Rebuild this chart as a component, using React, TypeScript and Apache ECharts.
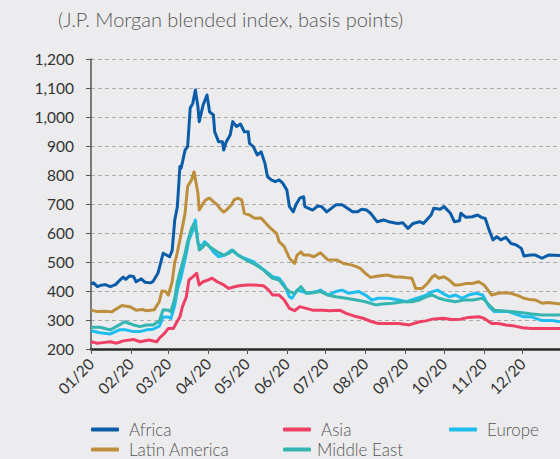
import React, { useEffect, useRef } from "react";
import * as echarts from "echarts";

const title = "(J.P. Morgan blended index, basis points)";
const seriesNames = ["Africa", "Asia", "Europe", "Latin America", "Middle East"];
const colors = ["#0a5ca8", "#ee3f65", "#1ebdef", "#bd8e3c", "#35b5b1"];

const africa: [string, number][] = [
  ["2020-01-01", 425], ["2020-01-03", 428], ["2020-01-06", 415], ["2020-01-09", 420], ["2020-01-12", 422],
  ["2020-01-16", 415], ["2020-01-20", 422], ["2020-01-24", 440], ["2020-01-26", 448], ["2020-01-28", 440],
  ["2020-01-31", 452], ["2020-02-03", 450], ["2020-02-05", 432], ["2020-02-09", 442], ["2020-02-12", 430],
  ["2020-02-16", 428], ["2020-02-18", 432], ["2020-02-22", 462], ["2020-02-26", 530], ["2020-03-02", 518],
  ["2020-03-04", 540], ["2020-03-06", 645], ["2020-03-08", 690], ["2020-03-10", 829], ["2020-03-11", 824],
  ["2020-03-14", 886], ["2020-03-16", 898], ["2020-03-18", 1031], ["2020-03-20", 1047], ["2020-03-22", 1093],
  ["2020-03-24", 1035], ["2020-03-25", 984], ["2020-03-28", 1041], ["2020-03-31", 1076], ["2020-04-01", 1048],
  ["2020-04-02", 1018], ["2020-04-05", 1007], ["2020-04-06", 949], ["2020-04-09", 915], ["2020-04-12", 915],
  ["2020-04-13", 886], ["2020-04-15", 915], ["2020-04-18", 938], ["2020-04-20", 984], ["2020-04-23", 967],
  ["2020-04-26", 976], ["2020-04-29", 949], ["2020-05-02", 949], ["2020-05-03", 909], ["2020-05-06", 898],
  ["2020-05-09", 869], ["2020-05-12", 880], ["2020-05-15", 840], ["2020-05-17", 794], ["2020-05-20", 783],
  ["2020-05-23", 777], ["2020-05-26", 783], ["2020-05-29", 771], ["2020-06-01", 748], ["2020-06-03", 691],
  ["2020-06-06", 673], ["2020-06-08", 697], ["2020-06-11", 720], ["2020-06-14", 725], ["2020-06-15", 691],
  ["2020-06-18", 685], ["2020-06-21", 679], ["2020-06-25", 693], ["2020-06-28", 691], ["2020-07-02", 673],
  ["2020-07-09", 697], ["2020-07-14", 697], ["2020-07-18", 685], ["2020-07-22", 673], ["2020-07-26", 673],
  ["2020-07-29", 682], ["2020-08-02", 679], ["2020-08-05", 668], ["2020-08-10", 639], ["2020-08-15", 645],
  ["2020-08-19", 639], ["2020-08-26", 633], ["2020-08-30", 635], ["2020-09-03", 616], ["2020-09-07", 633],
  ["2020-09-12", 639], ["2020-09-15", 633], ["2020-09-21", 662], ["2020-09-23", 685], ["2020-09-28", 682],
  ["2020-10-01", 691], ["2020-10-06", 668], ["2020-10-09", 639], ["2020-10-13", 642], ["2020-10-14", 668],
  ["2020-10-18", 654], ["2020-10-23", 656], ["2020-10-27", 662], ["2020-10-30", 654], ["2020-11-02", 650],
  ["2020-11-05", 610], ["2020-11-08", 576], ["2020-11-11", 587], ["2020-11-14", 576], ["2020-11-18", 585],
  ["2020-11-22", 564], ["2020-11-26", 559], ["2020-11-30", 547], ["2020-12-02", 521], ["2020-12-07", 524],
  ["2020-12-11", 524], ["2020-12-16", 513], ["2020-12-21", 524], ["2020-12-30", 522],
];

const asia: [string, number][] = [
  ["2020-01-01", 225], ["2020-01-06", 220], ["2020-01-10", 222], ["2020-01-16", 225], ["2020-01-21", 220],
  ["2020-01-26", 228], ["2020-02-03", 233], ["2020-02-08", 225], ["2020-02-15", 231], ["2020-02-21", 225],
  ["2020-02-23", 237], ["2020-02-27", 254], ["2020-03-01", 271], ["2020-03-05", 271], ["2020-03-07", 288],
  ["2020-03-10", 311], ["2020-03-12", 346], ["2020-03-15", 380], ["2020-03-17", 438], ["2020-03-20", 449],
  ["2020-03-23", 461], ["2020-03-25", 421], ["2020-03-28", 432], ["2020-04-01", 438], ["2020-04-04", 444],
  ["2020-04-08", 432], ["2020-04-13", 421], ["2020-04-17", 409], ["2020-04-20", 413], ["2020-04-25", 418],
  ["2020-05-01", 421], ["2020-05-06", 421], ["2020-05-14", 418], ["2020-05-18", 403], ["2020-05-21", 386],
  ["2020-05-26", 386], ["2020-05-30", 369], ["2020-06-03", 340], ["2020-06-07", 332], ["2020-06-11", 346],
  ["2020-06-16", 340], ["2020-06-21", 334], ["2020-06-29", 334], ["2020-07-04", 332], ["2020-07-12", 334],
  ["2020-07-17", 323], ["2020-07-23", 314], ["2020-07-30", 306], ["2020-08-06", 294], ["2020-08-11", 288],
  ["2020-08-19", 288], ["2020-08-27", 288], ["2020-09-04", 283], ["2020-09-12", 294], ["2020-09-17", 297],
  ["2020-09-22", 303], ["2020-09-30", 306], ["2020-10-07", 302], ["2020-10-14", 303], ["2020-10-20", 309],
  ["2020-10-28", 311], ["2020-11-01", 306], ["2020-11-07", 288], ["2020-11-12", 288], ["2020-11-18", 283],
  ["2020-11-25", 279], ["2020-12-01", 273], ["2020-12-08", 271], ["2020-12-16", 271], ["2020-12-30", 271],
];

const europe: [string, number][] = [
  ["2020-01-01", 263], ["2020-01-08", 256], ["2020-01-16", 252], ["2020-01-23", 266], ["2020-01-28", 266],
  ["2020-02-03", 260], ["2020-02-08", 260], ["2020-02-13", 266], ["2020-02-18", 268], ["2020-02-23", 279],
  ["2020-02-26", 310], ["2020-03-01", 310], ["2020-03-03", 305], ["2020-03-06", 350], ["2020-03-08", 403],
  ["2020-03-11", 449], ["2020-03-13", 490], ["2020-03-15", 530], ["2020-03-17", 576], ["2020-03-20", 610],
  ["2020-03-22", 645], ["2020-03-24", 564], ["2020-03-27", 553], ["2020-03-29", 570], ["2020-04-01", 559],
  ["2020-04-05", 535], ["2020-04-09", 518], ["2020-04-14", 524], ["2020-04-19", 541], ["2020-04-24", 524],
  ["2020-04-29", 513], ["2020-05-06", 501], ["2020-05-11", 484], ["2020-05-16", 467], ["2020-05-21", 449],
  ["2020-05-26", 444], ["2020-05-30", 421], ["2020-06-03", 380], ["2020-06-05", 375], ["2020-06-09", 403],
  ["2020-06-13", 398], ["2020-06-18", 392], ["2020-06-24", 398], ["2020-06-27", 403], ["2020-07-03", 386],
  ["2020-07-09", 398], ["2020-07-14", 403], ["2020-07-19", 392], ["2020-07-27", 398], ["2020-08-01", 386],
  ["2020-08-06", 369], ["2020-08-11", 375], ["2020-08-19", 375], ["2020-08-27", 369], ["2020-09-02", 363],
  ["2020-09-06", 369], ["2020-09-12", 378], ["2020-09-17", 386], ["2020-09-22", 398], ["2020-09-26", 403],
  ["2020-09-30", 392], ["2020-10-05", 380], ["2020-10-10", 386], ["2020-10-15", 375], ["2020-10-20", 386],
  ["2020-10-26", 392], ["2020-10-31", 386], ["2020-11-05", 346], ["2020-11-09", 329], ["2020-11-14", 329],
  ["2020-11-20", 329], ["2020-11-25", 321], ["2020-12-02", 311], ["2020-12-08", 311], ["2020-12-16", 298],
  ["2020-12-24", 298], ["2020-12-30", 294],
];

const latinAmerica: [string, number][] = [
  ["2020-01-01", 334], ["2020-01-06", 329], ["2020-01-12", 330], ["2020-01-17", 328], ["2020-01-25", 350],
  ["2020-01-31", 346], ["2020-02-05", 334], ["2020-02-10", 336], ["2020-02-13", 332], ["2020-02-19", 335],
  ["2020-02-23", 363], ["2020-02-25", 400], ["2020-02-28", 398], ["2020-03-01", 386], ["2020-03-04", 432],
  ["2020-03-06", 501], ["2020-03-07", 513], ["2020-03-10", 576], ["2020-03-12", 622], ["2020-03-14", 668],
  ["2020-03-15", 714], ["2020-03-16", 760], ["2020-03-19", 783], ["2020-03-21", 811], ["2020-03-24", 737],
  ["2020-03-25", 679], ["2020-03-28", 702], ["2020-03-30", 714], ["2020-04-02", 720], ["2020-04-05", 708],
  ["2020-04-08", 697], ["2020-04-10", 685], ["2020-04-13", 672], ["2020-04-15", 679], ["2020-04-19", 697],
  ["2020-04-21", 714], ["2020-04-24", 720], ["2020-04-27", 714], ["2020-04-29", 668], ["2020-05-03", 662],
  ["2020-05-07", 651], ["2020-05-12", 652], ["2020-05-18", 622], ["2020-05-24", 599], ["2020-05-26", 570],
  ["2020-05-30", 553], ["2020-06-03", 513], ["2020-06-07", 495], ["2020-06-09", 524], ["2020-06-12", 535],
  ["2020-06-14", 524], ["2020-06-18", 524], ["2020-06-22", 518], ["2020-06-27", 532], ["2020-07-03", 507],
  ["2020-07-06", 507], ["2020-07-10", 507], ["2020-07-15", 495], ["2020-07-21", 490], ["2020-07-25", 484],
  ["2020-07-28", 478], ["2020-08-01", 461], ["2020-08-05", 447], ["2020-08-11", 452], ["2020-08-18", 455],
  ["2020-08-23", 449], ["2020-08-31", 447], ["2020-09-06", 444], ["2020-09-09", 409], ["2020-09-14", 409],
  ["2020-09-18", 426], ["2020-09-22", 449], ["2020-09-24", 455], ["2020-09-27", 444], ["2020-10-01", 449],
  ["2020-10-05", 438], ["2020-10-09", 421], ["2020-10-13", 421], ["2020-10-18", 426], ["2020-10-23", 426],
  ["2020-10-28", 432], ["2020-11-01", 421], ["2020-11-05", 398], ["2020-11-07", 386], ["2020-11-12", 392],
  ["2020-11-17", 394], ["2020-11-22", 392], ["2020-11-28", 383], ["2020-12-02", 375], ["2020-12-06", 371],
  ["2020-12-11", 369], ["2020-12-16", 358], ["2020-12-21", 360], ["2020-12-30", 355],
];

const middleEast: [string, number][] = [
  ["2020-01-01", 275], ["2020-01-08", 275], ["2020-01-16", 266], ["2020-01-23", 283], ["2020-01-27", 294],
  ["2020-02-03", 283], ["2020-02-08", 277], ["2020-02-13", 283], ["2020-02-18", 283], ["2020-02-23", 296],
  ["2020-02-26", 335], ["2020-03-01", 334], ["2020-03-03", 329], ["2020-03-06", 375], ["2020-03-08", 430],
  ["2020-03-11", 481], ["2020-03-14", 530], ["2020-03-16", 570], ["2020-03-19", 616], ["2020-03-21", 633],
  ["2020-03-23", 599], ["2020-03-25", 541], ["2020-03-28", 553], ["2020-03-30", 564], ["2020-04-02", 553],
  ["2020-04-08", 535], ["2020-04-13", 524], ["2020-04-17", 530], ["2020-04-20", 541], ["2020-04-24", 524],
  ["2020-04-28", 513], ["2020-05-03", 501], ["2020-05-08", 490], ["2020-05-14", 472], ["2020-05-18", 455],
  ["2020-05-21", 444], ["2020-05-26", 438], ["2020-05-30", 415], ["2020-06-03", 398], ["2020-06-07", 392],
  ["2020-06-12", 415], ["2020-06-16", 392], ["2020-06-21", 394], ["2020-06-27", 398], ["2020-07-03", 386],
  ["2020-07-09", 380], ["2020-07-17", 375], ["2020-07-25", 369], ["2020-08-01", 363], ["2020-08-09", 352],
  ["2020-08-14", 355], ["2020-08-22", 358], ["2020-08-30", 363], ["2020-09-06", 363], ["2020-09-12", 369],
  ["2020-09-17", 380], ["2020-09-22", 386], ["2020-09-27", 375], ["2020-10-02", 369], ["2020-10-10", 363],
  ["2020-10-16", 369], ["2020-10-23", 369], ["2020-10-31", 375], ["2020-11-05", 352], ["2020-11-09", 334],
  ["2020-11-15", 332], ["2020-11-22", 329], ["2020-12-01", 325], ["2020-12-08", 321], ["2020-12-16", 317],
  ["2020-12-30", 317],
];

const seriesData = [africa, asia, europe, latinAmerica, middleEast];

const yMin = 200;
const yMax = 1200;
const yInterval = 100;
const xStart = new Date(2020, 0, 1).getTime();
const xEnd = new Date(2020, 11, 30).getTime();

// legend placement: [left, top] per series
const legendPos: [number, number][] = [
  [91, 421],
  [283, 421],
  [449, 421],
  [91, 441],
  [283, 441],
];

export default function App() {
  const ref = useRef<HTMLDivElement>(null);
  useEffect(() => {
    if (!ref.current) return;
    const chart = echarts.init(ref.current, undefined, { renderer: "svg" });
    const font = "Lato, 'Open Sans', sans-serif";
    chart.setOption({
      animation: false,
      backgroundColor: "#ececee",
      textStyle: { fontFamily: font },
      title: {
        text: title,
        left: 58,
        top: 9,
        padding: 0,
        textStyle: { fontSize: 20, fontWeight: 300, color: "#555", fontFamily: font },
      },
      legend: seriesNames.map((n, i) => ({
        data: [n],
        left: legendPos[i][0],
        top: legendPos[i][1],
        padding: 0,
        itemWidth: 28,
        itemHeight: 4,
        icon: "roundRect",
        itemGap: 0,
        textStyle: {
          fontSize: 17,
          fontWeight: 300,
          color: "#555",
          padding: [0, 0, 0, i === 4 ? 1 : 5],
          fontFamily: font,
        },
      })),
      grid: { left: 91, right: 0, top: 59, bottom: 110, containLabel: false },
      xAxis: {
        type: "time",
        min: xStart,
        max: xEnd,
        splitNumber: 12,
        minInterval: 28 * 86400000,
        maxInterval: 31 * 86400000,
        axisLine: { lineStyle: { color: "#2a2a2a", width: 2.5 } },
        axisTick: { show: true, length: 5, lineStyle: { color: "#555" } },
        splitLine: { show: false },
        axisLabel: {
          rotate: 45,
          fontSize: 15.5,
          color: "#333",
          margin: 12,
          fontFamily: font,
          formatter: (v: number) => {
            const d = new Date(v);
            return String(d.getMonth() + 1).padStart(2, "0") + "/" + String(d.getFullYear()).slice(2);
          },
        },
      },
      yAxis: {
        type: "value",
        min: yMin,
        max: yMax,
        interval: yInterval,
        axisLine: { show: true, lineStyle: { color: "#555", width: 1.5 } },
        axisTick: { show: true, length: 5, lineStyle: { color: "#555" } },
        splitLine: { show: true, lineStyle: { color: "#aaa", type: [4, 3], width: 1 } },
        axisLabel: {
          fontSize: 15.5,
          color: "#333",
          margin: 17,
          fontFamily: font,
          formatter: (v: number) => v.toLocaleString("en-US"),
        },
      },
      series: seriesNames.map((n, i) => ({
        name: n,
        type: "line",
        data: seriesData[i],
        symbol: "none",
        color: colors[i],
        lineStyle: { width: 3, color: colors[i], join: "round" },
      })),
    });
    return () => chart.dispose();
  }, []);
  return (
    <div
      ref={ref}
      style={{ position: "fixed", left: 0, top: 0, width: 560, height: 459 }}
    />
  );
}
